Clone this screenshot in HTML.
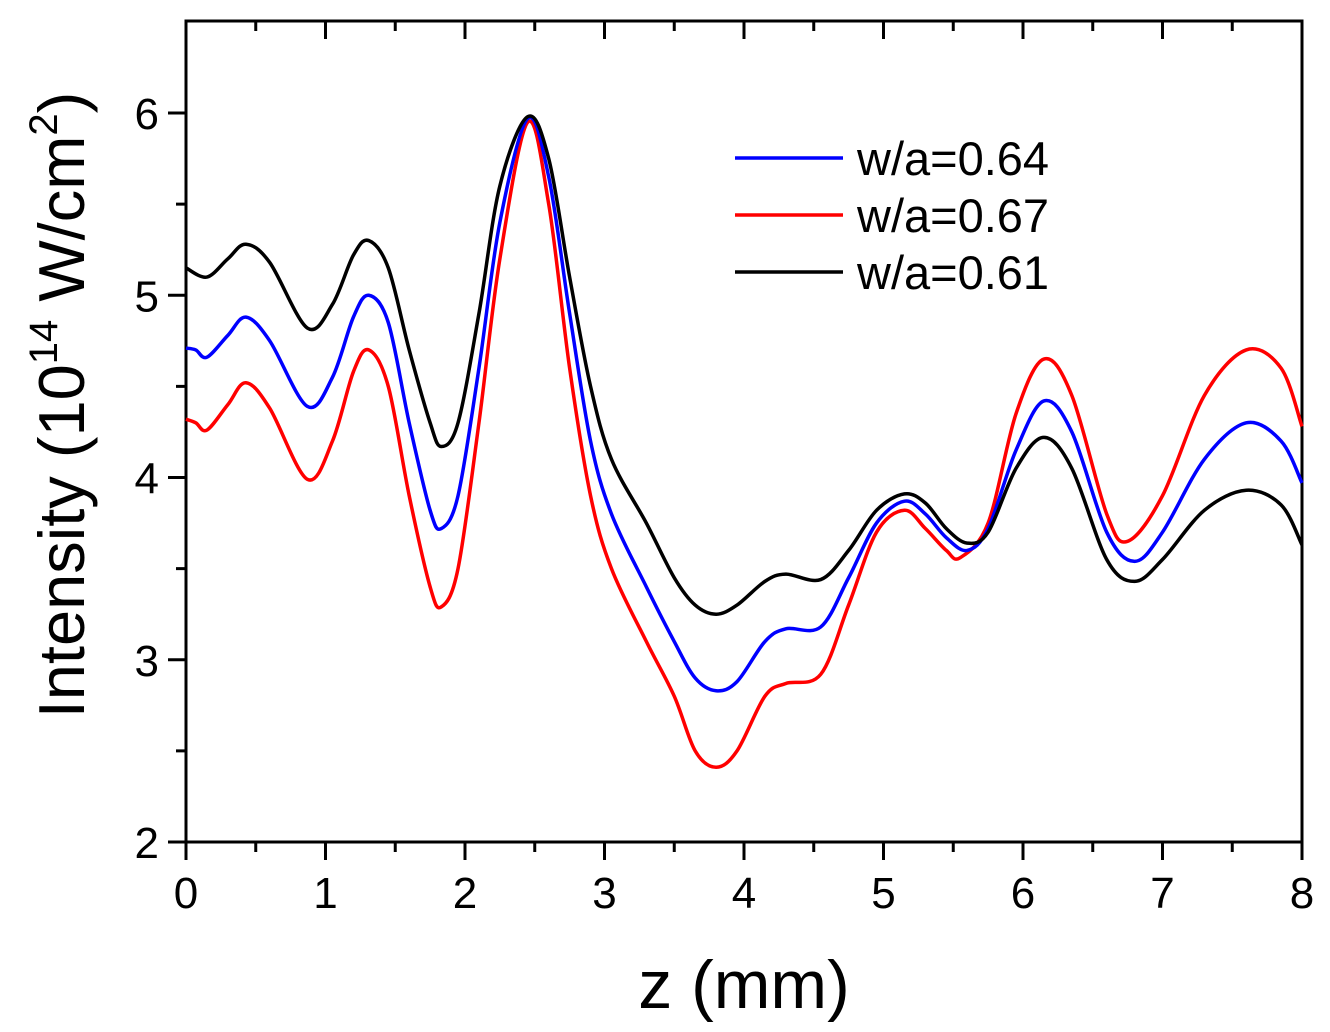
<!DOCTYPE html>
<html><head><meta charset="utf-8"><style>
html,body{margin:0;padding:0;background:#fff;}
svg{display:block;font-family:"Liberation Sans",Arial,sans-serif;}
</style></head><body>
<svg id="chart" width="1330" height="1032" viewBox="0 0 1330 1032" xmlns="http://www.w3.org/2000/svg">
<g id="axes"></g>
<g id="series"></g>
<g id="legend"></g>
<text x="744" y="1008" font-size="68" text-anchor="middle">z (mm)</text>
<text transform="translate(84,405) rotate(-90)" font-size="65" text-anchor="middle">Intensity (10<tspan font-size="40" dy="-27">14</tspan><tspan dy="27"> W/cm</tspan><tspan font-size="40" dy="-27">2</tspan><tspan dy="27">)</tspan></text>
</svg>
<script>
const xTicks=[0,1,2,3,4,5,6,7,8];
const yTicks=[2,3,4,5,6];
const seriesNames=["w/a=0.64","w/a=0.67","w/a=0.61"];
const seriesColors=["#0000ff","#ff0000","#000000"];
const zBlack=[0,0.15,0.3,0.43,0.6,0.87,1.05,1.2,1.31,1.45,1.6,1.75,1.83,1.95,2.1,2.25,2.45,2.6,2.75,2.9,3.05,3.3,3.5,3.65,3.8,3.95,4.15,4.3,4.55,4.75,4.95,5.15,5.3,5.45,5.6,5.75,5.95,6.15,6.35,6.6,6.8,7.0,7.3,7.6,7.85,8];
const iBlack=[5.15,5.1,5.2,5.28,5.18,4.82,4.95,5.22,5.3,5.15,4.7,4.3,4.17,4.3,4.9,5.6,5.98,5.75,5.1,4.5,4.1,3.75,3.45,3.3,3.25,3.3,3.43,3.47,3.44,3.6,3.82,3.91,3.86,3.72,3.64,3.7,4.05,4.22,4.05,3.55,3.43,3.55,3.82,3.93,3.85,3.63];
const zBlue=[0,0.07,0.15,0.3,0.43,0.6,0.87,1.05,1.2,1.31,1.45,1.6,1.75,1.83,1.95,2.1,2.25,2.45,2.6,2.75,2.9,3.05,3.3,3.5,3.65,3.8,3.95,4.15,4.3,4.55,4.75,4.95,5.15,5.3,5.45,5.6,5.75,5.95,6.15,6.35,6.6,6.8,7.0,7.3,7.6,7.85,8];
const iBlue=[4.71,4.7,4.66,4.78,4.88,4.75,4.39,4.55,4.88,5.0,4.85,4.3,3.82,3.72,3.9,4.6,5.4,5.97,5.65,4.9,4.2,3.8,3.4,3.1,2.9,2.83,2.88,3.1,3.17,3.18,3.45,3.75,3.87,3.8,3.67,3.6,3.72,4.15,4.42,4.25,3.7,3.54,3.7,4.1,4.3,4.2,3.97];
const zRed=[0,0.07,0.15,0.3,0.43,0.6,0.87,1.05,1.2,1.31,1.45,1.6,1.75,1.83,1.95,2.1,2.25,2.45,2.6,2.75,2.9,3.05,3.3,3.5,3.65,3.8,3.95,4.15,4.3,4.55,4.75,4.95,5.15,5.3,5.45,5.55,5.75,5.95,6.15,6.35,6.6,6.75,7.0,7.3,7.6,7.85,8];
const iRed=[4.32,4.3,4.26,4.4,4.52,4.38,3.99,4.2,4.58,4.7,4.5,3.9,3.4,3.29,3.5,4.3,5.2,5.95,5.5,4.6,3.9,3.5,3.1,2.8,2.5,2.41,2.5,2.8,2.87,2.92,3.3,3.7,3.82,3.72,3.6,3.56,3.75,4.35,4.65,4.45,3.8,3.65,3.9,4.45,4.7,4.6,4.28];

const X0=186,X1=1302,Y0=842,Y1=21;
function xs(v){return X0+(v-0)/(8-0)*(X1-X0);}
function ys(v){return 842-(v-2)*182.25;}
const NS="http://www.w3.org/2000/svg";
function mk(tag,attrs,parent){const e=document.createElementNS(NS,tag);for(const k in attrs)e.setAttribute(k,attrs[k]);parent.appendChild(e);return e;}
const axes=document.getElementById('axes');
const frame=mk('rect',{x:X0,y:Y1,width:X1-X0,height:Y0-Y1,fill:'none',stroke:'#000','stroke-width':3},axes);


for(let v=0;v<=8.001;v+=0.5){
  const major=Math.abs(v-Math.round(v))<1e-6;const L=major?18:10;
  const t=mk('line',{x1:xs(v),x2:xs(v),y1:Y0,y2:Y0+L,stroke:'#000','stroke-width':3},axes);
  
  
  const t2=mk('line',{x1:xs(v),x2:xs(v),y1:Y1,y2:Y1+L,stroke:'#000','stroke-width':3},axes);
  
  
}
xTicks.forEach(v=>{
  const t=mk('text',{x:xs(v),y:908,'font-size':44,'text-anchor':'middle'},axes);t.textContent=v;
  
  
});
for(let v=2;v<=6.001;v+=0.5){
  const major=Math.abs(v-Math.round(v))<1e-6;const L=major?18:10;
  const t=mk('line',{x1:X0-L,x2:X0,y1:ys(v),y2:ys(v),stroke:'#000','stroke-width':3},axes);
  
  
}
yTicks.forEach(v=>{
  const t=mk('text',{x:159,y:ys(v)+16,'font-size':44,'text-anchor':'end'},axes);t.textContent=v;
  
  
});
function pathFor(zs,is){
  const p=zs.map((z,i)=>[xs(z),ys(is[i])]);
  let d='M'+p[0][0]+','+p[0][1];
  for(let i=0;i<p.length-1;i++){
    const a=p[Math.max(0,i-1)],b=p[i],c=p[i+1],e=p[Math.min(p.length-1,i+2)];
    const c1=[b[0]+(c[0]-a[0])/6,b[1]+(c[1]-a[1])/6],c2=[c[0]-(e[0]-b[0])/6,c[1]-(e[1]-b[1])/6];
    d+=' C'+c1[0]+','+c1[1]+' '+c2[0]+','+c2[1]+' '+c[0]+','+c[1];
  }
  return d;
}
const sg=document.getElementById('series');
const data=[[zBlue,iBlue],[zRed,iRed],[zBlack,iBlack]];
const order=[1,0,2];
order.forEach(k=>{
  const p=mk('path',{d:pathFor(data[k][0],data[k][1]),fill:'none',stroke:seriesColors[k],'stroke-width':3.5},sg);
  
  
});
const lg=document.getElementById('legend');
seriesNames.forEach((n,i)=>{
  const y=158+i*57;
  const l=mk('line',{x1:735,x2:843,y1:y,y2:y,stroke:seriesColors[i],'stroke-width':3.5},lg);
  
  
  const t=mk('text',{x:857,y:y+17,'font-size':47},lg);t.textContent=n;
  
  
});
</script>
</body></html>
